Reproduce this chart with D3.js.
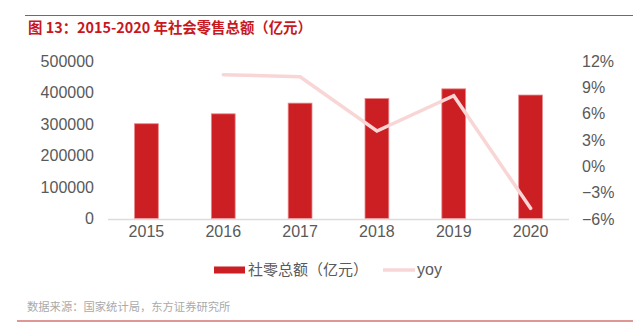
<!DOCTYPE html>
<html><head><meta charset="utf-8">
<script src="https://cdn.jsdelivr.net/npm/d3@7"></script>
<style>
html,body{margin:0;padding:0;background:#fff;}
svg{display:block;}
</style></head>
<body><div id="chart"></div>
<script>
const years = ["2015","2016","2017","2018","2019","2020"];
const retailTotal = [300931, 332316, 366262, 380987, 411649, 391981];
const yoyYears = ["2016","2017","2018","2019","2020"];
const yoyValues = [10.43, 10.21, 4.02, 8.05, -4.78];
const leftTicks = [0, 100000, 200000, 300000, 400000, 500000];
const rightTicks = [-6, -3, 0, 3, 6, 9, 12];
const titleText = "图 13：2015-2020 年社会零售总额（亿元）";
const sourceText = "数据来源：国家统计局，东方证券研究所";
const legendBar = "社零总额（亿元）";
const legendLine = "yoy";

const W = 644, H = 336;
const svg = d3.select("#chart").append("svg").attr("width", W).attr("height", H);
const cjk = "'Noto Sans CJK SC', 'Liberation Sans', sans-serif";
const num = "'Liberation Sans', Arial, sans-serif";

// header line and title
svg.append("line").attr("x1", 25).attr("x2", 633).attr("y1", 15.5).attr("y2", 15.5)
  .attr("stroke", "#e03a3a").attr("stroke-width", 1.2);
svg.append("text").attr("x", 28).attr("y", 33).text(titleText)
  .attr("font-family", cjk).attr("font-weight", "bold").attr("font-size", 14.4)
  .attr("fill", "#c8171d");

const x = d3.scaleBand().domain(years).range([108, 569]).paddingInner(0.69).paddingOuter(0.345);
const yL = d3.scaleLinear().domain([0, 500000]).range([218.5, 61]);
const yR = d3.scaleLinear().domain([-6, 12]).range([219, 61]);

// bars
svg.append("g").selectAll("rect").data(years).join("rect")
  .attr("x", d => x(d)).attr("width", x.bandwidth())
  .attr("y", (d, i) => yL(retailTotal[i]))
  .attr("height", (d, i) => yL(0) - yL(retailTotal[i]))
  .attr("fill", "#cc1f24").attr("stroke", "#e88a8c").attr("stroke-width", 0.8);

// x axis baseline
svg.append("line").attr("x1", 108).attr("x2", 569).attr("y1", 219.5).attr("y2", 219.5)
  .attr("stroke", "#dcdcdc").attr("stroke-width", 1.5);

// left axis
const axL = svg.append("g").attr("transform", "translate(94,0)")
  .call(d3.axisLeft(yL).tickValues(leftTicks).tickSize(0).tickPadding(0).tickFormat(d3.format("d")));
axL.select(".domain").remove();
axL.selectAll("text").attr("font-family", num).attr("font-size", 16).attr("fill", "#595959");

// right axis
const axR = svg.append("g").attr("transform", "translate(582,0)")
  .call(d3.axisRight(yR).tickValues(rightTicks).tickSize(0).tickPadding(0)
    .tickFormat(d => (d < 0 ? "\u2212" + Math.abs(d) : d) + "%"));
axR.select(".domain").remove();
axR.selectAll("text").attr("font-family", num).attr("font-size", 16).attr("fill", "#595959");

// x axis labels
const axX = svg.append("g").attr("transform", "translate(0,226)")
  .call(d3.axisBottom(x).tickSize(0).tickPadding(0));
axX.select(".domain").remove();
axX.selectAll("text").attr("font-family", num).attr("font-size", 16).attr("fill", "#595959").attr("dy", "0.71em");

// yoy line
const line = d3.line().x((d, i) => x(yoyYears[i]) + x.bandwidth() / 2).y(d => yR(d));
svg.append("path").datum(yoyValues).attr("d", line)
  .attr("fill", "none").attr("stroke", "#f9d6d6").attr("stroke-width", 3.5)
  .attr("stroke-linejoin", "miter").attr("stroke-linecap", "round");

// legend
svg.append("rect").attr("x", 214).attr("y", 266.5).attr("width", 31).attr("height", 7).attr("fill", "#cc1f24");
svg.append("text").attr("x", 248).attr("y", 275).text(legendBar)
  .attr("font-family", cjk).attr("font-size", 15).attr("fill", "#595959");
svg.append("line").attr("x1", 383).attr("x2", 415).attr("y1", 270).attr("y2", 270)
  .attr("stroke", "#f9d6d6").attr("stroke-width", 3.5);
svg.append("text").attr("x", 417).attr("y", 275).text(legendLine)
  .attr("font-family", num).attr("font-size", 16).attr("fill", "#595959");

// source and bottom line
svg.append("text").attr("x", 27).attr("y", 311).text(sourceText)
  .attr("font-family", cjk).attr("font-size", 11.3).attr("fill", "#aaaaaa");
svg.append("line").attr("x1", 17).attr("x2", 633).attr("y1", 321).attr("y2", 321)
  .attr("stroke", "#c0302f").attr("stroke-width", 1.2);
</script></body></html>
